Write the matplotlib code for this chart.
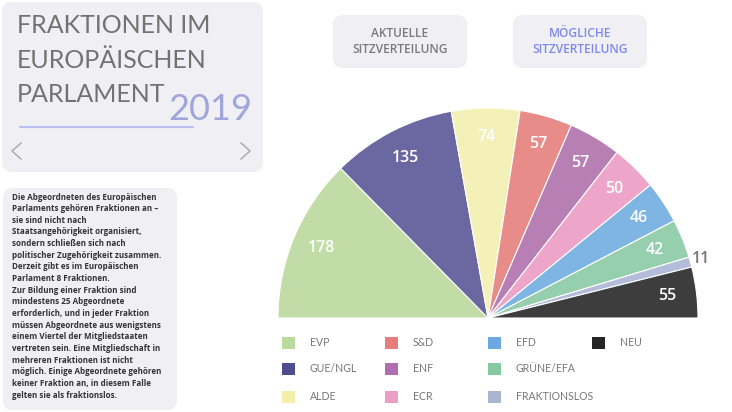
import matplotlib.pyplot as plt
import numpy as np
from matplotlib.patches import FancyBboxPatch

# seats per group (left to right in the half circle)
groups = ['EVP', 'GUE/NGL', 'ALDE', 'S&D', 'ENF', 'ECR', 'EFD', 'GRÜNE/EFA', 'FRAKTIONSLOS', 'NEU']
seats = [178, 135, 74, 57, 57, 50, 46, 42, 11, 55]
pie_colors = ['#c1dca6', '#6b67a0', '#f3f0b8', '#e88c8a', '#b87fb5',
              '#eda6c9', '#7fb5e3', '#96cfad', '#b3bcd8', '#3d3d3d']
legend_colors = ['#b9db9c', '#4f4b8e', '#f3efab', '#e77c7a', '#b06db0',
                 '#ee9dc7', '#6ca9e0', '#86c9a1', '#a9b6d2', '#262626']

title_lines = ['FRAKTIONEN IM', 'EUROPÄISCHEN', 'PARLAMENT']
year = '2019'
info_lines = [
    'Die Abgeordneten des Europäischen',
    'Parlaments gehören Fraktionen an –',
    'sie sind nicht nach',
    'Staatsangehörigkeit organisiert,',
    'sondern schließen sich nach',
    'politischer Zugehörigkeit zusammen.',
    'Derzeit gibt es im Europäischen',
    'Parlament 8 Fraktionen.',
    'Zur Bildung einer Fraktion sind',
    'mindestens 25 Abgeordnete',
    'erforderlich, und in jeder Fraktion',
    'müssen Abgeordnete aus wenigstens',
    'einem Viertel der Mitgliedstaaten',
    'vertreten sein. Eine Mitgliedschaft in',
    'mehreren Fraktionen ist nicht',
    'möglich. Einige Abgeordnete gehören',
    'keiner Fraktion an, in diesem Falle',
    'gelten sie als fraktionslos.',
]
buttons = ['AKTUELLE\nSITZVERTEILUNG', 'MÖGLICHE\nSITZVERTEILUNG']

W, H = 732, 412
fig = plt.figure(figsize=(W / 100, H / 100), dpi=100)
ax = fig.add_axes([0, 0, 1, 1])

panel = '#efeff4'


def rbox(x0, y0, x1, y1, r=10, color=panel):
    # y given top-down in pixels
    p = FancyBboxPatch((x0, H - y1), x1 - x0, y1 - y0,
                       boxstyle=f'round,pad=0,rounding_size={r}',
                       fc=color, ec='none', zorder=0)
    ax.add_patch(p)


# title panel
rbox(2, 2, 263, 172)
for i, line in enumerate(title_lines):
    ax.text(17, H - (33 + i * 34.5), line, fontsize=18, color='#727272',
            family='Lato', va='baseline', ha='left')
ax.text(168, H - 120, year, fontsize=26, color='#a0a6d9',
        family='Lato', va='baseline', ha='left')
ax.plot([20, 193], [H - 127, H - 127], color='#b9bdf0', lw=1.5, solid_capstyle='round')
ax.plot([21, 12, 21], [H - 143, H - 151, H - 159], color='#a8a8a8', lw=1)
ax.plot([241, 250, 241], [H - 143, H - 151, H - 159], color='#a8a8a8', lw=1)

# info panel
rbox(3, 188, 177, 410)
step = (395 - 197) / (len(info_lines) - 1)
for i, line in enumerate(info_lines):
    ax.text(12, H - (197 + i * step), line, fontsize=5.8, color='#333333',
            family='Open Sans', fontweight='bold', va='center', ha='left')

# buttons
for (x0, x1), label, col in zip([(333, 467), (513, 647)], buttons, ['#7a7a7a', '#7d89e8']):
    rbox(x0, 15, x1, 68, r=10)
    ax.text((x0 + x1) / 2, H - 41, label, fontsize=8.6, color=col, family='Open Sans',
            fontweight='semibold', ha='center', va='center', linespacing=1.3)

# half pie
cx, cy, R = 488, H - 318, 210
total = sum(seats)
wedges, _ = ax.pie(seats + [total], colors=pie_colors + ['none'], startangle=180,
                   counterclock=False, center=(cx, cy), radius=R, frame=True,
                   wedgeprops=dict(edgecolor='white', linewidth=0.8))
wedges[-1].set_visible(False)
ax.set_xlim(0, W)
ax.set_ylim(0, H)
ax.set_aspect('equal')
ax.axis('off')

for w, val in zip(wedges[:-1], seats):
    mid = np.deg2rad((w.theta1 + w.theta2) / 2)
    if val < 20:
        r, col = R * 1.05, '#777777'
    else:
        r, col = R * 0.86, 'white'
    ax.text(cx + r * np.cos(mid), cy + r * np.sin(mid), str(val), fontsize=11.5,
            color=col, family='Open Sans', fontweight='semibold', ha='center', va='center')

# legend, column-major, 3 rows
col_x = [282, 385, 488, 592]
row_y = [342.5, 369, 397]
for i, (name, c) in enumerate(zip(groups, legend_colors)):
    lx = col_x[i // 3]
    ly = H - row_y[i % 3]
    ax.add_patch(plt.Rectangle((lx, ly - 6), 13, 12, fc=c, ec='none'))
    ax.text(lx + 28, ly, name, fontsize=7.6, color='#777777', family='Lato',
            ha='left', va='center')

fig.savefig('out.png', dpi=100, facecolor='white')
